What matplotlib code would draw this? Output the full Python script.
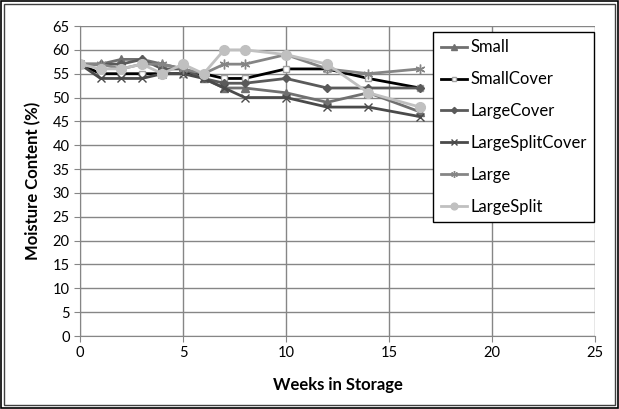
import matplotlib.pyplot as plt
from matplotlib.patches import Rectangle

weeks = [0, 1, 2, 3, 4, 5, 6, 7, 8, 10, 12, 14, 16.5]

small = [57, 57, 58, 58, 57, 56, 54, 52, 52, 51, 49, 51, 47]
small_cover = [57, 55, 55, 55, 55, 55, 55, 54, 54, 56, 56, 54, 52]
large_cover = [57, 57, 57, 58, 56, 56, 54, 53, 53, 54, 52, 52, 52]
large_split_cover = [57, 54, 54, 54, 55, 55, 54, 52, 50, 50, 48, 48, 46]
large = [57, 57, 56, 57, 57, 56, 55, 57, 57, 59, 56, 55, 56]
large_split = [57, 56, 56, 57, 55, 57, 55, 60, 60, 59, 57, 51, 48]

series_names = ["Small", "SmallCover", "LargeCover", "LargeSplitCover", "Large", "LargeSplit"]


def main():
    plt.rcParams["font.family"] = ["Lato", "DejaVu Sans"]
    fig = plt.figure(figsize=(6.19, 4.09), dpi=100)
    ax = fig.add_axes([80 / 619, 1 - 336 / 409, 515 / 619, 310 / 409])

    styles = [
        dict(color="#707070", marker="^", ms=6, mfc="#707070", mec="#707070"),
        dict(color="black", marker="s", ms=5, mfc="white", mec="#a0a0a0"),
        dict(color="#5a5a5a", marker="D", ms=4.5, mfc="#5a5a5a", mec="#5a5a5a"),
        dict(color="#4a4a4a", marker="x", ms=6, mfc="#4a4a4a", mec="#4a4a4a"),
        dict(color="#858585", marker=(6, 2, 0), ms=7, mfc="#858585", mec="#858585"),
        dict(color="#c0c0c0", marker="o", ms=7, mfc="#c0c0c0", mec="#c0c0c0"),
    ]
    data = [small, small_cover, large_cover, large_split_cover, large, large_split]
    for name, vals, st in zip(series_names, data, styles):
        ax.plot(weeks, vals, lw=2, label=name, mew=1, **st)

    ax.set_xlim(0, 25)
    ax.set_ylim(0, 65)
    ax.set_xticks(range(0, 26, 5))
    ax.set_yticks(range(0, 66, 5))
    ax.grid(True, color="#868686", lw=1)
    ax.set_axisbelow(True)
    for side in ["top", "right"]:
        ax.spines[side].set_visible(False)
    for side in ["left", "bottom"]:
        ax.spines[side].set_color("#868686")
    ax.tick_params(colors="#868686", labelcolor="black", labelsize=10.5, length=4)
    ax.set_xlabel("Weeks in Storage", fontsize=12, fontweight="bold", labelpad=12)
    ax.set_ylabel("Moisture Content (%)", fontsize=12, fontweight="bold", labelpad=8)

    leg = ax.legend(loc="upper left", bbox_to_anchor=(433 / 619, 1 - 32 / 409),
                    bbox_transform=fig.transFigure, fontsize=12, frameon=True,
                    fancybox=False, edgecolor="black", framealpha=1,
                    handlelength=1.6, handletextpad=0.2, labelspacing=0.95,
                    borderpad=0.45, borderaxespad=0, markerscale=0.7)
    leg.get_frame().set_linewidth(1)

    # double border round the chart area
    fig.patches.append(Rectangle((1 / 619, 1 / 409), 617 / 619, 407 / 409,
                                 transform=fig.transFigure, fill=False,
                                 ec="black", lw=1.2))
    fig.patches.append(Rectangle((4 / 619, 4 / 409), 611 / 619, 401 / 409,
                                 transform=fig.transFigure, fill=False,
                                 ec="#404040", lw=1))

    fig.savefig("out.png", dpi=100)
    plt.close(fig)


if __name__ == "__main__":
    main()
